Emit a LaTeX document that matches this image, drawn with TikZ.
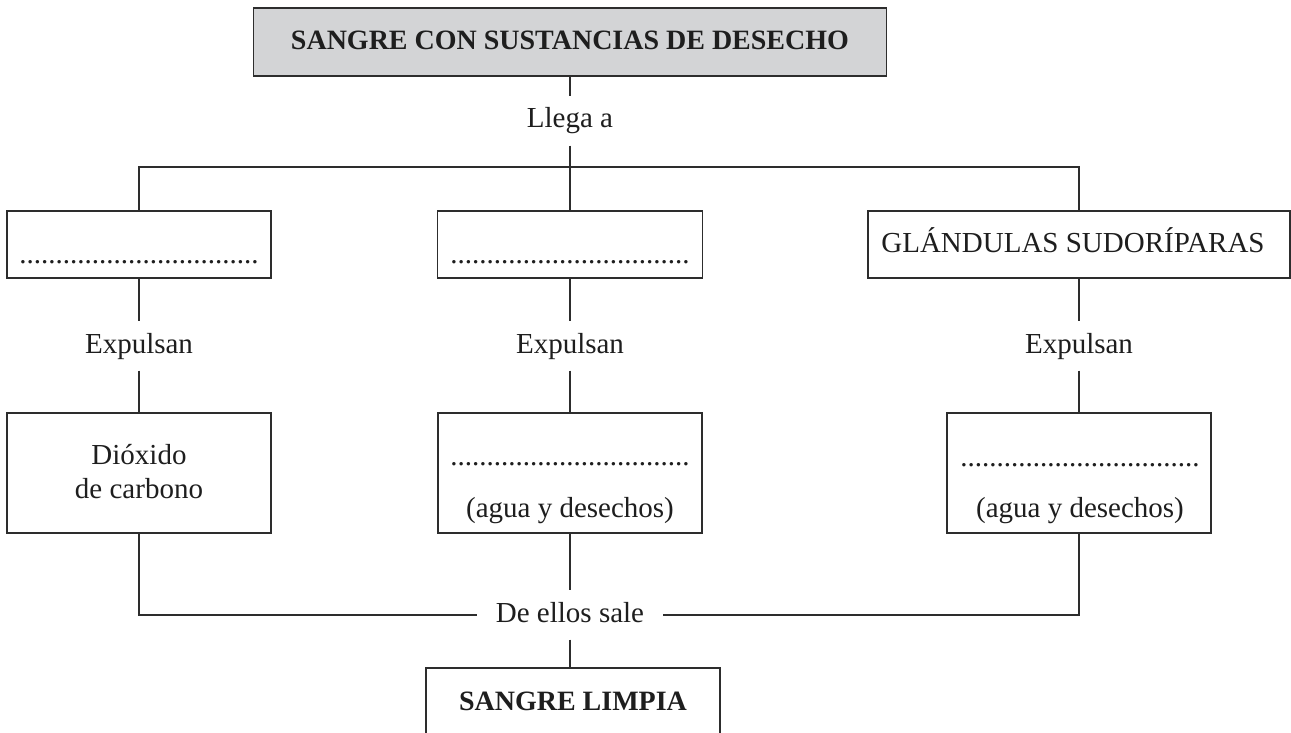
\documentclass[tikz,border=0pt]{standalone}
\usepackage{fontspec}
\setmainfont{Liberation Serif}
\begin{document}
\begin{tikzpicture}[x=1pt,y=-1pt,
  conn/.style={draw=linecol,line width=1.2pt},
  box/.style={draw=linecol,line width=1.2pt,rectangle,inner sep=0pt},
  txt/.style={anchor=base,inner sep=0pt,text=textcol,font=\fontsize{29}{34}\selectfont},
  btxt/.style={anchor=base,inner sep=0pt,text=textcol,font=\fontsize{28}{34}\selectfont\bfseries},
  lbl/.style={text=textcol,font=\fontsize{29}{34}\selectfont,text height=20pt,text depth=6pt,inner ysep=11.5pt,inner xsep=19pt,anchor=base}
]
\definecolor{linecol}{RGB}{45,45,45}
\definecolor{textcol}{RGB}{30,30,30}
\definecolor{titlefill}{RGB}{211,212,214}
\clip (0,0) rectangle (1291,733);
\fill[white] (0,0) rectangle (1291,733);
\def\mydots{.................................}
% boxes
\node[box,fill=titlefill,minimum width=633pt,minimum height=68pt] (title) at (570,42) {};
\node[box,minimum width=264pt,minimum height=67pt] (b1) at (139,244.5) {};
\node[box,minimum width=265pt,minimum height=67pt] (b2) at (570,244.5) {};
\node[box,minimum width=422pt,minimum height=67pt] (b3) at (1079,244.5) {};
\node[box,minimum width=264pt,minimum height=120pt] (b4) at (139,473) {};
\node[box,minimum width=264pt,minimum height=120pt] (b5) at (570,473) {};
\node[box,minimum width=264pt,minimum height=120pt] (b6) at (1079,473) {};
\node[box,minimum width=294pt,minimum height=120pt] (b7) at (573,728) {};
% texts in boxes
\node[btxt] (tt) at (570,50) {SANGRE CON SUSTANCIAS DE DESECHO};
\node[txt] (t1) at (139,263) {\mydots};
\node[txt] (t2) at (570,263) {\mydots};
\node[txt] (t3) at (1073,252) {GLÁNDULAS SUDORÍPARAS};
\node[txt] (t4a) at (139,464) {Dióxido};
\node[txt] (t4b) at (139,498) {de carbono};
\node[txt] (t5a) at (570,465) {\mydots};
\node[txt] (t5b) at (570,517) {(agua y desechos)};
\node[txt] (t6a) at (1080,466) {\mydots};
\node[txt] (t6b) at (1080,517) {(agua y desechos)};
\node[btxt] (t7) at (573,710) {SANGRE LIMPIA};
% labels
\node[lbl] (llega) at (570,128) {Llega a};
\node[lbl] (ex1) at (139,353) {Expulsan};
\node[lbl] (ex2) at (570,353) {Expulsan};
\node[lbl] (ex3) at (1079,353) {Expulsan};
\node[lbl] (sale) at (570,622) {De ellos sale};
\coordinate (hub) at (570,167);
% connectors
\draw[conn] (title.south) -- (llega.north);
\draw[conn] (llega.south) -- (b2.north);
\draw[conn] (b1.north) |- (hub) -| (b3.north);
\draw[conn] (b1.south) -- (ex1.north);
\draw[conn] (ex1.south) -- (b4.north);
\draw[conn] (b2.south) -- (ex2.north);
\draw[conn] (ex2.south) -- (b5.north);
\draw[conn] (b3.south) -- (ex3.north);
\draw[conn] (ex3.south) -- (b6.north);
\draw[conn] (b4.south) |- (sale.west);
\draw[conn] (b6.south) |- (sale.east);
\draw[conn] (b5.south) -- (sale.north);
\draw[conn] (sale.south) -- (b7.north -| sale.south);
\end{tikzpicture}
\end{document}
